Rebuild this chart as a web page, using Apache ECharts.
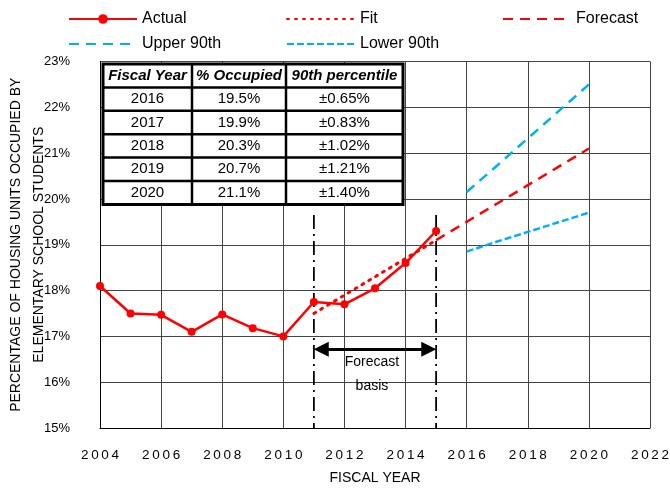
<!DOCTYPE html>
<html>
<head>
<meta charset="utf-8">
<script src="https://cdn.jsdelivr.net/npm/echarts@6/dist/echarts.min.js"></script>
<style>
  html, body { margin: 0; padding: 0; background: #fff; }
  #chart { width: 670px; height: 489px; }
</style>
</head>
<body>
<div id="chart"></div>
<script>
// observed values
const actualYears = [2004, 2005, 2006, 2007, 2008, 2009, 2010, 2011, 2012, 2013, 2014, 2015];
const actualPct = [18.1, 17.5, 17.47, 17.1, 17.48, 17.18, 17.0, 17.75, 17.7, 18.05, 18.6, 19.3];

// regression fit over forecast basis
const fitYears = [2011, 2012, 2013, 2014, 2015];
const fitPct = [17.5, 17.9, 18.3, 18.7, 19.1];

// forecast + 90th percentile band
const forecastYears = [2015, 2016, 2017, 2018, 2019, 2020];
const forecastPct = [19.1, 19.5, 19.9, 20.3, 20.7, 21.1];
const bandYears = [2016, 2017, 2018, 2019, 2020];
const upperPct = [20.15, 20.73, 21.32, 21.91, 22.5];
const lowerPct = [18.85, 19.07, 19.28, 19.49, 19.7];

// table
const tableHead = ['Fiscal Year', '% Occupied', '90th percentile'];
const tableYears = ['2016', '2017', '2018', '2019', '2020'];
const tableOcc = ['19.5%', '19.9%', '20.3%', '20.7%', '21.1%'];
const tableBand = ['±0.65%', '±0.83%', '±1.02%', '±1.21%', '±1.40%'];

const basisYears = [2011, 2015];
const basisTop = 19.65;
const arrowPct = 16.72;
const basisLabelPct = 16.17;

const FONT = 'Liberation Sans';
const RED = '#ff0000';
const BLUE = '#00b0f0';

const zip = (xs, ys) => xs.map((x, i) => [x, ys[i]]);

const myChart = echarts.init(document.getElementById('chart'));

// table drawn as graphic
const tx = 103, ty = 64, colX = [103, 192, 286, 403], rowH = 23.4;
const tableEls = [];
tableEls.push({ type: 'rect', shape: { x: tx, y: ty, width: colX[3] - tx, height: rowH * 6 },
  style: { fill: '#fff', stroke: '#000', lineWidth: 3 } });
for (let r = 1; r < 6; r++) {
  tableEls.push({ type: 'line', shape: { x1: tx, y1: ty + r * rowH, x2: colX[3], y2: ty + r * rowH },
    style: { stroke: '#000', lineWidth: 2.5 } });
}
for (let c = 1; c < 3; c++) {
  tableEls.push({ type: 'line', shape: { x1: colX[c], y1: ty, x2: colX[c], y2: ty + rowH * 6 },
    style: { stroke: '#000', lineWidth: 2.5 } });
}
const cols = [tableYears, tableOcc, tableBand];
tableHead.forEach((h, c) => {
  tableEls.push({ type: 'text', x: (colX[c] + colX[c + 1]) / 2, y: ty + rowH / 2,
    style: { text: h, font: 'italic bold 15px ' + FONT, fill: '#000', align: 'center', verticalAlign: 'middle' } });
  cols[c].forEach((v, r) => {
    tableEls.push({ type: 'text', x: (colX[c] + colX[c + 1]) / 2, y: ty + rowH * (r + 1.5),
      style: { text: v, font: '15px ' + FONT, fill: '#000', align: 'center', verticalAlign: 'middle' } });
  });
});

const legendBase = { itemWidth: 68, itemHeight: 12, textStyle: { fontFamily: FONT, fontSize: 16, color: '#000' } };
const noDot = { itemStyle: { opacity: 0 } };

const option = {
  animation: false,
  grid: { left: 100, right: 20, top: 61.5, bottom: 61, outerBoundsMode: 'none', containLabel: false },
  legend: [
    Object.assign({ data: ['Actual'], left: 63, top: 6 }, legendBase),
    Object.assign({ data: ['Fit'], left: 281, top: 6 }, legendBase, noDot),
    Object.assign({ data: ['Forecast'], left: 497, top: 6 }, legendBase, noDot),
    Object.assign({ data: ['Upper 90th'], left: 63, top: 31 }, legendBase, noDot),
    Object.assign({ data: ['Lower 90th'], left: 281, top: 31 }, legendBase, noDot)
  ],
  xAxis: {
    type: 'value', min: 2004, max: 2022, interval: 2,
    name: 'FISCAL YEAR', nameLocation: 'middle', nameGap: 43,
    nameTextStyle: { fontFamily: FONT, fontSize: 14, color: '#000' },
    axisLine: { lineStyle: { color: '#000', width: 1 } },
    axisTick: { show: false },
    axisLabel: { margin: 20, fontFamily: FONT, fontSize: 13.5, color: '#000',
      formatter: v => String(v).split('').join('\u2009') },
    splitLine: { show: true, lineStyle: { color: '#444', width: 1 } }
  },
  yAxis: {
    type: 'value', min: 15, max: 23, interval: 1,
    name: 'PERCENTAGE OF HOUSING UNITS OCCUPIED BY\nELEMENTARY SCHOOL STUDENTS',
    nameLocation: 'middle', nameGap: 49, nameMoveOverlap: false,
    nameTextStyle: { fontFamily: FONT, fontSize: 14, color: '#000', lineHeight: 23 },
    axisLine: { show: true, lineStyle: { color: '#000', width: 1 } },
    axisTick: { show: false },
    axisLabel: { margin: 30, fontFamily: FONT, fontSize: 13, color: '#000', formatter: '{value}%' },
    splitLine: { show: true, lineStyle: { color: '#444', width: 1 } }
  },
  series: [
    {
      name: 'Actual', type: 'line', data: zip(actualYears, actualPct),
      symbol: 'circle', symbolSize: 8, z: 5,
      lineStyle: { color: RED, width: 2.5 }, itemStyle: { color: RED }
    },
    {
      name: 'Fit', type: 'line', data: zip(fitYears, fitPct), symbol: 'none', z: 4,
      lineStyle: { color: RED, width: 3, type: [2, 6], cap: 'round' }, itemStyle: { color: RED }
    },
    {
      name: 'Forecast', type: 'line', data: zip(forecastYears, forecastPct), symbol: 'none', z: 4,
      lineStyle: { color: RED, width: 2.5, type: [10, 7] }, itemStyle: { color: RED }
    },
    {
      name: 'Upper 90th', type: 'line', data: zip(bandYears, upperPct), symbol: 'none',
      lineStyle: { color: BLUE, width: 2.5, type: [10, 7] }, itemStyle: { color: BLUE }
    },
    {
      name: 'Lower 90th', type: 'line', data: zip(bandYears, lowerPct), symbol: 'none',
      lineStyle: { color: BLUE, width: 2.5, type: [7, 3] }, itemStyle: { color: BLUE }
    },
    // forecast basis markers
    ...basisYears.map(y => ({
      type: 'line', data: [[y, basisTop], [y, 15]], symbol: 'none', silent: true, z: 3,
      lineStyle: { color: '#000', width: 1.8, type: [14, 5, 2, 5] }
    })),
    {
      type: 'lines', coordinateSystem: 'cartesian2d', silent: true, z: 6,
      symbol: ['triangle', 'triangle'], symbolSize: [15, 15],
      lineStyle: { color: '#000', width: 3, opacity: 1 },
      data: [{ coords: [[basisYears[0] + 0.24, arrowPct], [basisYears[1] - 0.24, arrowPct]] }]
    }
  ]
};

option && myChart.setOption(option);

// table + "Forecast basis" caption, caption placed through the axes
const capPos = myChart.convertToPixel({ gridIndex: 0 },
  [(basisYears[0] + basisYears[1]) / 2 - 0.1, basisLabelPct]);
myChart.setOption({
  graphic: tableEls.map(e => Object.assign({ z: 100 }, e)).concat([{
    type: 'text', x: capPos[0], y: capPos[1], z: 100,
    style: { text: 'Forecast\nbasis', font: '14px ' + FONT, lineHeight: 24, fill: '#000',
      align: 'center', verticalAlign: 'middle' }
  }])
});

window.addEventListener('resize', () => { myChart.resize(); });
</script>
</body>
</html>
